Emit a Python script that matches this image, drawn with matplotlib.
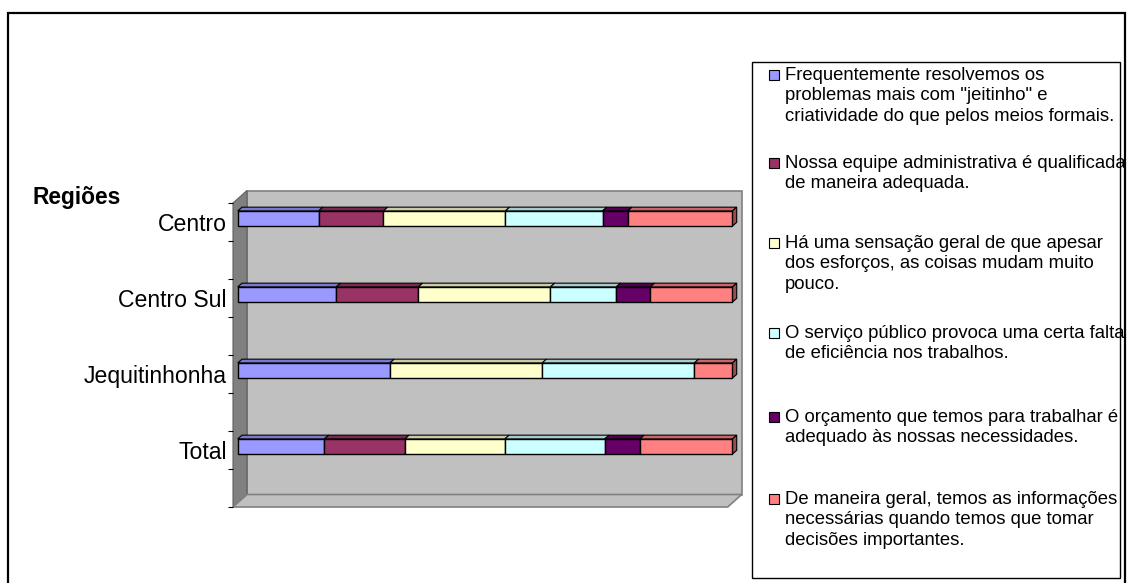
import matplotlib
matplotlib.use("Agg")
import matplotlib.pyplot as plt
from matplotlib.patches import Rectangle, Polygon
from matplotlib.colors import to_rgb

W, H = 1131, 583

# ---- data -------------------------------------------------------------
categories = ["Centro", "Centro Sul", "Jequitinhonha", "Total"]
axis_title = "Regiões"

series_labels = [
    "Frequentemente resolvemos os\nproblemas mais com \"jeitinho\" e\ncriatividade do que pelos meios formais.",
    "Nossa equipe administrativa é qualificada\nde maneira adequada.",
    "Há uma sensação geral de que apesar\ndos esforços, as coisas mudam muito\npouco.",
    "O serviço público provoca uma certa falta\nde eficiência nos trabalhos.",
    "O orçamento que temos para trabalhar é\nadequado às nossas necessidades.",
    "De maneira geral, temos as informações\nnecessárias quando temos que tomar\ndecisões importantes.",
]

# share of answers (%) per region: Centro, Centro Sul, Jequitinhonha, Total
jeitinho = [16.4, 19.9, 30.8, 17.5]
equipe = [13.1, 16.6, 0.0, 16.3]
sensacao = [24.7, 26.7, 30.8, 20.2]
servico = [19.7, 13.3, 30.8, 20.2]
orcamento = [5.1, 6.9, 0.0, 7.1]
informacoes = [21.2, 16.6, 7.7, 18.7]

series = [jeitinho, equipe, sensacao, servico, orcamento, informacoes]
colors = ["#9999FF", "#993366", "#FFFFCC", "#CCFFFF", "#660066", "#FF8080"]

FONT = "Liberation Sans"


def fx(x):
    return x / W


def fy(y):
    return 1 - y / H


def shade(c, f):
    r, g, b = to_rgb(c)
    return (r * f, g * f, b * f)


fig = plt.figure(figsize=(W / 100, H / 100), dpi=100)
fig.patch.set_facecolor("white")

# front plane of the 3-D box (pixel extents)
X0, X1, Y0, Y1 = 233.0, 727.7, 203.0, 507.0
DEPTH = (14.0, 12.5)           # wall depth (right, up) in px
BAR_FRONT = (4.7, 4.2)         # bar front face offset in px
BAR_DEPTH = (4.3, 3.8)         # bar thickness in px

ax = fig.add_axes([fx(X0), fy(Y1), (X1 - X0) / W, (Y1 - Y0) / H])
n_slots = 2 * len(categories)
ax.set_xlim(0, 100)
ax.set_ylim(n_slots, 0)
ax.patch.set_visible(False)
for s in ax.spines.values():
    s.set_visible(False)
ax.xaxis.set_visible(False)

xpp = 100 / (X1 - X0)          # data units per pixel
ypp = n_slots / (Y1 - Y0)

tf = fig.transFigure
dX, dY = DEPTH

# walls and floor
back = Polygon([(fx(X0 + dX), fy(Y0 - dY)), (fx(X1 + dX), fy(Y0 - dY)),
                (fx(X1 + dX), fy(Y1 - dY)), (fx(X0 + dX), fy(Y1 - dY))],
               closed=True, transform=tf, facecolor="#C0C0C0",
               edgecolor="#808080", lw=1.2, clip_on=False, zorder=0)
left = Polygon([(fx(X0), fy(Y0)), (fx(X0 + dX), fy(Y0 - dY)),
                (fx(X0 + dX), fy(Y1 - dY)), (fx(X0), fy(Y1))],
               closed=True, transform=tf, facecolor="#808080",
               edgecolor="#606060", lw=0.8, clip_on=False, zorder=0.5)
floor = Polygon([(fx(X0), fy(Y1)), (fx(X0 + dX), fy(Y1 - dY)),
                 (fx(X1 + dX), fy(Y1 - dY)), (fx(X1), fy(Y1))],
                closed=True, transform=tf, facecolor="#C0C0C0",
                edgecolor="#808080", lw=1.2, clip_on=False, zorder=0.5)
for p in (back, left, floor):
    ax.add_patch(p)

# 100 % stacked 3-D bars
fox, foy = BAR_FRONT[0] * xpp, BAR_FRONT[1] * ypp
dox, doy = BAR_DEPTH[0] * xpp, BAR_DEPTH[1] * ypp
bar_h = 15.2 * ypp

for i, cat in enumerate(categories):
    vals = [s[i] for s in series]
    tot = sum(vals)
    yc = 2 * i + 0.5 + 0.02 - foy
    top = yc - bar_h / 2
    bot = yc + bar_h / 2
    left_edge = 0.0
    segs = []
    for v, c in zip(vals, colors):
        w = v / tot * 100
        if w > 0:
            segs.append((left_edge + fox, w, c))
        left_edge += w
    for (x, w, c) in segs:
        ax.barh(yc, w, left=x, height=bar_h, color=c, edgecolor="black",
                lw=1.0, zorder=3, clip_on=False)
        ax.add_patch(Polygon([(x, top), (x + w, top), (x + w + dox, top - doy),
                              (x + dox, top - doy)], closed=True,
                             facecolor=shade(c, 0.8), edgecolor="black",
                             lw=0.8, zorder=2.5, clip_on=False))
    x, w, c = segs[-1]
    ax.add_patch(Polygon([(x + w, top), (x + w + dox, top - doy),
                          (x + w + dox, bot - doy), (x + w, bot)], closed=True,
                         facecolor=shade(c, 0.6), edgecolor="black",
                         lw=0.8, zorder=2.5, clip_on=False))

# category axis
ax.set_yticks(range(n_slots + 1))
ax.set_yticklabels([])
ax.set_yticks([2 * i + 0.5 for i in range(len(categories))], minor=True)
ax.set_yticklabels(categories, minor=True, fontsize=16.6, family=FONT)
ax.tick_params(axis="y", which="major", length=3.6, width=0.8, color="black")
ax.tick_params(axis="y", which="minor", length=0, pad=4.5)

fig.text(fx(33), fy(204), axis_title, fontsize=16.4, fontweight="bold",
         family=FONT, ha="left", va="baseline")

# outer frame
fig.patches.append(Rectangle((fx(8), fy(590)), fx(1125) - fx(8), fy(13) - fy(590),
                             transform=tf, fill=False, edgecolor="black", lw=1.6))

# legend
fig.patches.append(Rectangle((fx(752), fy(578)), fx(1120) - fx(752), fy(62) - fy(578),
                             transform=tf, fill=False, edgecolor="black", lw=1.0))
entry_y = [75, 163, 243, 333, 417, 499]
for lab, c, y in zip(series_labels, colors, entry_y):
    fig.patches.append(Rectangle((fx(768.5), fy(y + 5)), 10 / W, 10 / H, transform=tf,
                                 facecolor=c, edgecolor="black", lw=0.8))
    fig.text(fx(785), fy(y - 8.5), lab, fontsize=13.3, family=FONT,
             ha="left", va="top", linespacing=1.3)

fig.savefig("out.png", dpi=100)
